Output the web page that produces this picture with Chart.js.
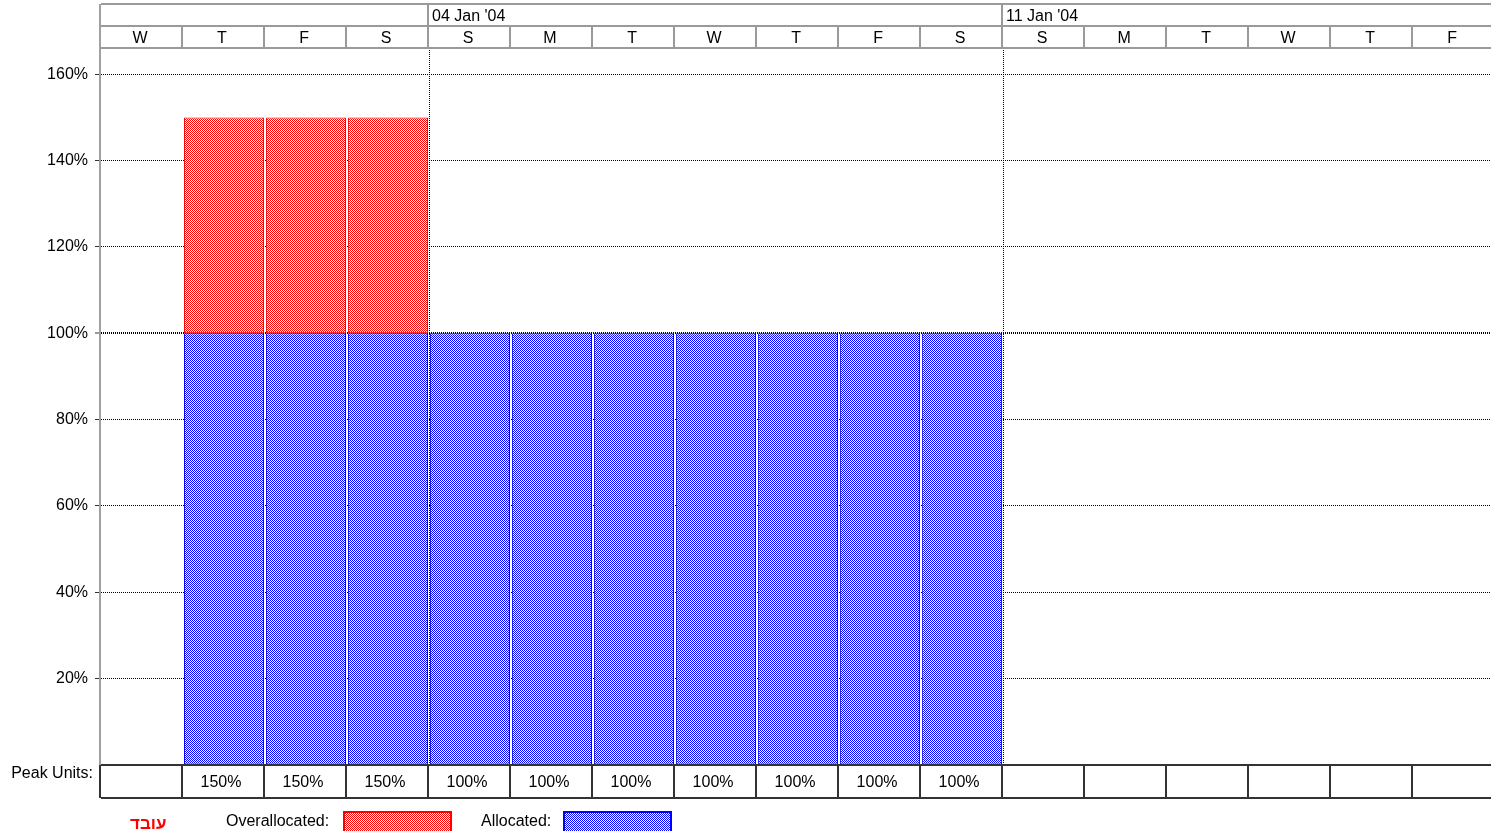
<!DOCTYPE html>
<html>
<head>
<meta charset="utf-8">
<script src="https://cdn.jsdelivr.net/npm/chart.js@4.4.0/dist/chart.umd.min.js"></script>
<style>
  html, body { margin: 0; padding: 0; background: #fff; }
  #graph { display: block; }
</style>
</head>
<body>
<canvas id="graph" width="1491" height="831"></canvas>
<script>
// days shown on the timescale, one column each
const days = ['W', 'T', 'F', 'S', 'S', 'M', 'T', 'W', 'T', 'F', 'S', 'S', 'M', 'T', 'W', 'T', 'F'];
// week headers and the column where each week starts
const weekLabels = ["04 Jan '04", "11 Jan '04"];
const weekStarts = [4, 11];
// units per day (%)
const allocated     = [null, 100, 100, 100, 100, 100, 100, 100, 100, 100, 100, null, null, null, null, null, null];
const overallocated = [null, 50, 50, 50, null, null, null, null, null, null, null, null, null, null, null, null, null];
const resourceName = 'עובד';

const FONT = '"Liberation Sans", Arial, "DejaVu Sans", sans-serif';

// little dithered fill, like the old resource graph
function dither(color) {
  const c = document.createElement('canvas');
  c.width = 2; c.height = 2;
  const g = c.getContext('2d');
  g.fillStyle = '#fff';
  g.fillRect(0, 0, 2, 2);
  g.fillStyle = color;
  g.fillRect(0, 0, 1, 1);
  g.fillRect(1, 1, 1, 1);
  return g.createPattern(c, 'repeat');
}
const bluePat = dither('#0000ff');
const redPat = dither('#ff0000');

function line(ctx, x1, y1, x2, y2) {
  ctx.beginPath();
  ctx.moveTo(x1, y1);
  ctx.lineTo(x2, y2);
  ctx.stroke();
}

// timescale on top, week separators, peak units row and legend below
const extras = {
  id: 'extras',
  beforeDatasetsDraw(chart) {
    const ctx = chart.ctx;
    const x = chart.scales.x;
    const area = chart.chartArea;
    ctx.save();
    ctx.strokeStyle = '#000';
    ctx.lineWidth = 1;
    ctx.setLineDash([1, 1]);
    weekStarts.forEach(w => {
      const px = Math.round(x.getPixelForValue(w - 0.5)) + 0.5;
      line(ctx, px, area.top, px, area.bottom);
    });
    ctx.restore();
  },
  afterDraw(chart) {
    const ctx = chart.ctx;
    const x = chart.scales.x;
    const area = chart.chartArea;
    const left = area.left, right = chart.width;
    const top = area.top - 44, mid = area.top - 22, bot = area.top;

    ctx.save();
    ctx.font = '16px ' + FONT;
    ctx.fillStyle = '#000';

    // header grid
    ctx.strokeStyle = '#9a9a9a';
    ctx.lineWidth = 2;
    line(ctx, left, top, right, top);
    line(ctx, left, mid, right, mid);
    line(ctx, left, bot, right, bot);
    weekStarts.forEach((w, k) => {
      const px = Math.round(x.getPixelForValue(w - 0.5)) - 1;
      line(ctx, px, top, px, mid);
      ctx.textAlign = 'left';
      ctx.textBaseline = 'middle';
      ctx.fillText(weekLabels[k], px + 4, (top + mid) / 2 + 2);
    });
    days.forEach((d, i) => {
      const px = Math.round(x.getPixelForValue(i - 0.5)) - 1;
      if (i > 0) line(ctx, px, mid, px, bot);
      ctx.textAlign = 'center';
      ctx.textBaseline = 'middle';
      ctx.fillText(d, x.getPixelForValue(i) - 2, (mid + bot) / 2 + 2);
    });

    // left axis line
    ctx.strokeStyle = '#a0a0a0';
    line(ctx, left - 1, top, left - 1, area.bottom + 33);

    // peak units row
    const py0 = area.bottom, py1 = area.bottom + 33;
    ctx.strokeStyle = '#333';
    ctx.lineWidth = 2;
    line(ctx, left, py0, right, py0);
    line(ctx, left, py1, right, py1);
    days.forEach((d, i) => {
      const px = Math.round(x.getPixelForValue(i - 0.5)) - 1;
      line(ctx, px, py0, px, py1);
      if (allocated[i] !== null) {
        const peak = allocated[i] + (overallocated[i] || 0);
        ctx.textAlign = 'center';
        ctx.textBaseline = 'middle';
        ctx.fillText(peak + '%', x.getPixelForValue(i) - 3, (py0 + py1) / 2 + 1);
      }
    });
    ctx.textAlign = 'right';
    ctx.fillText('Peak Units:', 93, py0 + 9);

    // legend
    const ly = 822;
    ctx.textAlign = 'left';
    ctx.fillStyle = '#ff0000';
    ctx.font = 'bold 17px ' + FONT;
    ctx.fillText(resourceName, 130, ly + 2);
    ctx.font = '16px ' + FONT;
    ctx.fillStyle = '#000';
    ctx.fillText('Overallocated:', 226, ly);
    ctx.fillText('Allocated:', 481, ly);
    ctx.lineWidth = 2;
    ctx.fillStyle = redPat;
    ctx.fillRect(344, 812, 107, 22);
    ctx.strokeStyle = '#ff0000';
    ctx.strokeRect(344, 812, 107, 22);
    ctx.fillStyle = bluePat;
    ctx.fillRect(564, 812, 107, 22);
    ctx.strokeStyle = '#0000ff';
    ctx.strokeRect(564, 812, 107, 22);
    ctx.restore();
  }
};

const tickVal = c => (c.tick ? c.tick.value : null);

new Chart(document.getElementById('graph'), {
  type: 'bar',
  data: {
    datasets: [{
      label: 'Allocated',
      data: allocated.map((v, i) => ({ x: i, y: v })),
      backgroundColor: bluePat,
      borderColor: '#0000ff',
      borderWidth: 1,
      borderSkipped: false
    }, {
      label: 'Overallocated',
      data: overallocated.map((v, i) => ({ x: i, y: v })),
      backgroundColor: redPat,
      borderColor: '#ff0000',
      borderWidth: 1,
      borderSkipped: false
    }]
  },
  options: {
    responsive: false,
    animation: false,
    devicePixelRatio: 1,
    barPercentage: 0.975,
    categoryPercentage: 1,
    layout: { padding: { top: 48, bottom: 66, left: 0, right: 0 } },
    plugins: { legend: { display: false }, tooltip: { enabled: false } },
    scales: {
      x: {
        type: 'linear',
        stacked: true,
        min: -0.5,
        max: 16.45,
        offset: false,
        afterFit: s => { s.height = 0; },
        ticks: { display: false },
        grid: { display: false },
        border: { display: false }
      },
      y: {
        stacked: true,
        min: 0,
        max: 166.1,
        afterFit: s => { s.width = 101; },
        ticks: {
          stepSize: 20,
          includeBounds: false,
          padding: 7,
          color: '#000',
          font: { family: FONT, size: 16 },
          callback: v => (v === 0 ? '' : v + '%')
        },
        grid: {
          color: c => (tickVal(c) === 0 ? 'rgba(0,0,0,0)' : '#000'),
          lineWidth: c => (tickVal(c) === 100 ? 2 : 1),
          tickLength: 6,
          tickColor: c => (tickVal(c) === 0 ? 'rgba(0,0,0,0)' : '#333'),
          tickWidth: 1,
          tickBorderDash: []
        },
        border: { display: false, dash: [1, 1] }
      }
    }
  },
  plugins: [extras]
});
</script>
</body>
</html>
